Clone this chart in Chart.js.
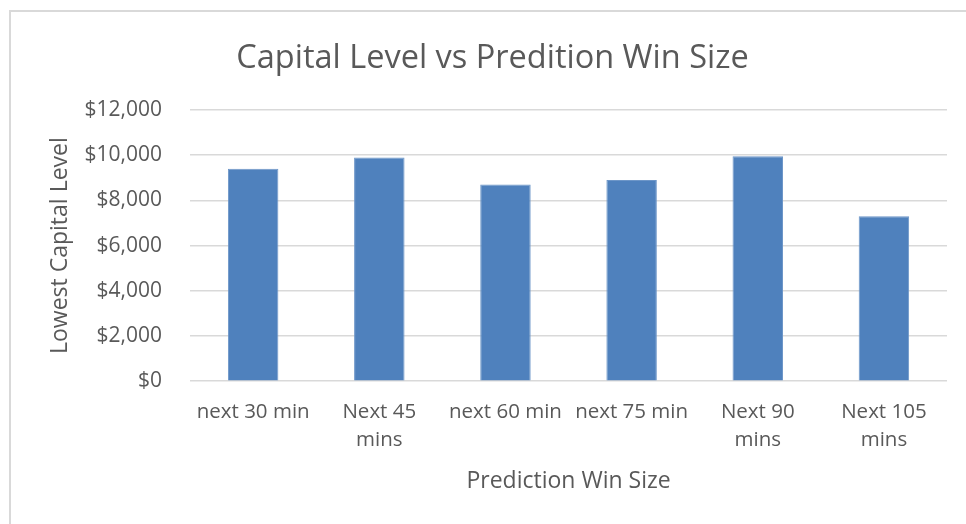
<!DOCTYPE html>
<html>
<head>
<meta charset="utf-8">
<script src="https://cdn.jsdelivr.net/npm/chart.js@4.4.1/dist/chart.umd.min.js"></script>
<style>
  html, body { margin: 0; padding: 0; background: #fff; overflow: hidden; }
  #frame { position: absolute; left: 9px; top: 10px; width: 1000px; height: 600px; border: 2px solid #d9d9d9; }
  #wrap { position: absolute; left: 0; top: 0; width: 966px; height: 524px; }
</style>
</head>
<body>
<div id="frame"></div>
<div id="wrap"><canvas id="capChart" width="966" height="524"></canvas></div>
<script>
// chart data
const categories = ["next 30 min", ["Next 45", "mins"], "next 60 min", "next 75 min", ["Next 90", "mins"], ["Next 105", "mins"]];
const lowestCapital = [9400, 9900, 8700, 8900, 9950, 7300];
const yTicks = [0, 2000, 4000, 6000, 8000, 10000, 12000];

const textColor = "#595959";
const font = "'Open Sans', sans-serif";

const chart = new Chart(document.getElementById("capChart"), {
    type: "bar",
    data: {
        labels: categories,
        datasets: [{
            data: lowestCapital,
            backgroundColor: "#4f81bd",
            borderColor: "#6d96c8",
            borderWidth: 1,
            categoryPercentage: 1,
            barPercentage: 0.4
        }]
    },
    options: {
        responsive: false,
        animation: false,
        layout: { padding: { left: 38, right: 19, top: 0, bottom: 29 } },
        plugins: {
            legend: { display: false },
            tooltip: { enabled: false },
            title: {
                display: true,
                text: "Capital Level vs Predition Win Size",
                color: textColor,
                font: { family: font, size: 32.5, weight: "normal", lineHeight: 1.2 },
                padding: { top: 39, bottom: 32 }
            }
        },
        scales: {
            x: {
                grid: { display: false, drawTicks: false },
                border: { display: false },
                ticks: {
                    color: textColor,
                    font: { family: font, size: 20.5, lineHeight: 1.37 },
                    padding: 17,
                    maxRotation: 0,
                    autoSkip: false
                },
                title: {
                    display: true,
                    text: "Prediction Win Size",
                    color: textColor,
                    font: { family: font, size: 23, lineHeight: 1.2 },
                    padding: { top: -4, bottom: 0 }
                }
            },
            y: {
                min: 0,
                max: 12000,
                afterBuildTicks: (axis) => { axis.ticks = yTicks.map(v => ({ value: v })); },
                grid: { color: "#d9d9d9", lineWidth: 1.5, drawTicks: false },
                border: { display: false },
                ticks: {
                    color: textColor,
                    font: { family: font, size: 21 },
                    padding: 28,
                    callback: (v) => "$" + v.toLocaleString("en-US")
                },
                title: {
                    display: true,
                    text: "Lowest Capital Level",
                    color: textColor,
                    font: { family: font, size: 23, lineHeight: 1.2 },
                    padding: { top: 9, bottom: -18 }
                }
            }
        }
    }
});
</script>
</body>
</html>
